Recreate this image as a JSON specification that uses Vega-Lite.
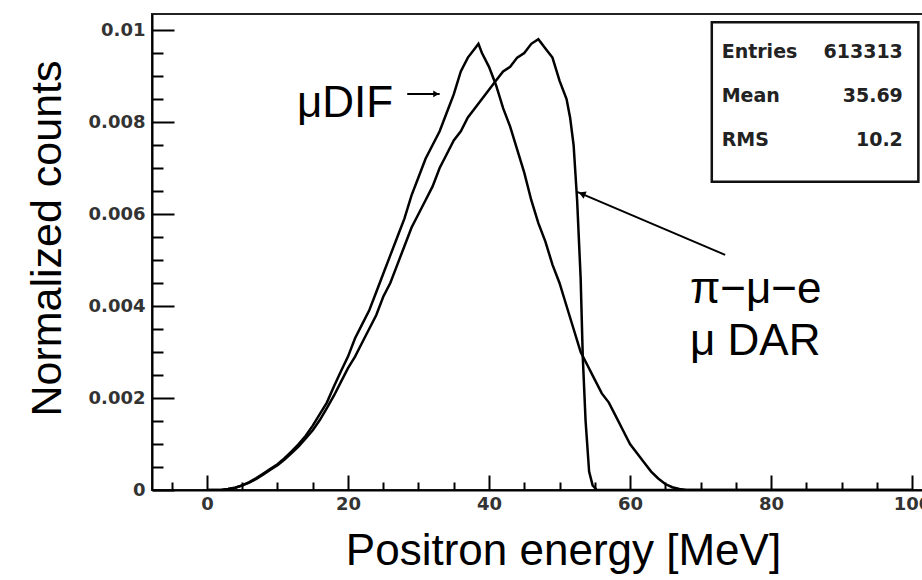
{
  "$schema": "https://vega.github.io/schema/vega-lite/v6.json",
  "width": 772,
  "height": 476,
  "autosize": {"type": "none"},
  "padding": {"left": 152, "top": 14, "right": 0, "bottom": 90},
  "background": "white",
  "config": {
    "view": {"stroke": "#222", "strokeWidth": 2},
    "axis": {
      "grid": false,
      "domainColor": "black",
      "domainWidth": 2,
      "tickColor": "black",
      "tickWidth": 2,
      "labelFont": "DejaVu Sans",
      "labelFontWeight": "bold",
      "labelFontSize": 18,
      "labelColor": "#333",
      "titleFont": "Liberation Sans",
      "titleFontWeight": "normal",
      "titleFontSize": 43,
      "titleColor": "black"
    }
  },
  "datasets": {
    "hist": [
      {"s": "mudif", "E": 0, "v": 0}, {"s": "mudif", "E": 1, "v": 0}, {"s": "mudif", "E": 2, "v": 0},
      {"s": "mudif", "E": 3, "v": 0.00002}, {"s": "mudif", "E": 4, "v": 0.00005}, {"s": "mudif", "E": 5, "v": 0.0001},
      {"s": "mudif", "E": 6, "v": 0.00017}, {"s": "mudif", "E": 7, "v": 0.00026}, {"s": "mudif", "E": 8, "v": 0.00036},
      {"s": "mudif", "E": 9, "v": 0.00046}, {"s": "mudif", "E": 10, "v": 0.00056}, {"s": "mudif", "E": 11, "v": 0.00069},
      {"s": "mudif", "E": 12, "v": 0.00084}, {"s": "mudif", "E": 13, "v": 0.001}, {"s": "mudif", "E": 14, "v": 0.00118},
      {"s": "mudif", "E": 15, "v": 0.0014}, {"s": "mudif", "E": 16, "v": 0.00165}, {"s": "mudif", "E": 17, "v": 0.0019},
      {"s": "mudif", "E": 18, "v": 0.00225}, {"s": "mudif", "E": 19, "v": 0.00258}, {"s": "mudif", "E": 20, "v": 0.0029},
      {"s": "mudif", "E": 21, "v": 0.0033}, {"s": "mudif", "E": 22, "v": 0.0036}, {"s": "mudif", "E": 23, "v": 0.0039},
      {"s": "mudif", "E": 24, "v": 0.0043}, {"s": "mudif", "E": 25, "v": 0.0047}, {"s": "mudif", "E": 26, "v": 0.0051},
      {"s": "mudif", "E": 27, "v": 0.0055}, {"s": "mudif", "E": 28, "v": 0.0059}, {"s": "mudif", "E": 29, "v": 0.0064},
      {"s": "mudif", "E": 30, "v": 0.0068}, {"s": "mudif", "E": 31, "v": 0.0072}, {"s": "mudif", "E": 32, "v": 0.0075},
      {"s": "mudif", "E": 33, "v": 0.0078}, {"s": "mudif", "E": 34, "v": 0.0082}, {"s": "mudif", "E": 35, "v": 0.0086},
      {"s": "mudif", "E": 36, "v": 0.0091}, {"s": "mudif", "E": 37, "v": 0.0094}, {"s": "mudif", "E": 38, "v": 0.0096},
      {"s": "mudif", "E": 38.5, "v": 0.0097}, {"s": "mudif", "E": 39, "v": 0.0095}, {"s": "mudif", "E": 40, "v": 0.0092},
      {"s": "mudif", "E": 41, "v": 0.0088}, {"s": "mudif", "E": 42, "v": 0.0083}, {"s": "mudif", "E": 43, "v": 0.0079},
      {"s": "mudif", "E": 44, "v": 0.0074}, {"s": "mudif", "E": 45, "v": 0.0069}, {"s": "mudif", "E": 46, "v": 0.0063},
      {"s": "mudif", "E": 47, "v": 0.0058}, {"s": "mudif", "E": 48, "v": 0.0054}, {"s": "mudif", "E": 49, "v": 0.0049},
      {"s": "mudif", "E": 50, "v": 0.0045}, {"s": "mudif", "E": 51, "v": 0.004}, {"s": "mudif", "E": 52, "v": 0.0035},
      {"s": "mudif", "E": 53, "v": 0.003}, {"s": "mudif", "E": 54, "v": 0.0027}, {"s": "mudif", "E": 55, "v": 0.0024},
      {"s": "mudif", "E": 56, "v": 0.0021}, {"s": "mudif", "E": 57, "v": 0.0019}, {"s": "mudif", "E": 58, "v": 0.0016},
      {"s": "mudif", "E": 59, "v": 0.0013}, {"s": "mudif", "E": 60, "v": 0.001}, {"s": "mudif", "E": 61, "v": 0.0008},
      {"s": "mudif", "E": 62, "v": 0.0006}, {"s": "mudif", "E": 63, "v": 0.0004}, {"s": "mudif", "E": 64, "v": 0.00025},
      {"s": "mudif", "E": 65, "v": 0.00013}, {"s": "mudif", "E": 66, "v": 0.00006}, {"s": "mudif", "E": 67, "v": 0.00002},
      {"s": "mudif", "E": 68, "v": 0}, {"s": "mudif", "E": 100, "v": 0},
      {"s": "dar", "E": 0, "v": 0}, {"s": "dar", "E": 1, "v": 0}, {"s": "dar", "E": 2, "v": 0},
      {"s": "dar", "E": 3, "v": 0.00002}, {"s": "dar", "E": 4, "v": 0.00005}, {"s": "dar", "E": 5, "v": 0.0001},
      {"s": "dar", "E": 6, "v": 0.00016}, {"s": "dar", "E": 7, "v": 0.00024}, {"s": "dar", "E": 8, "v": 0.00034},
      {"s": "dar", "E": 9, "v": 0.00044}, {"s": "dar", "E": 10, "v": 0.00054}, {"s": "dar", "E": 11, "v": 0.00066},
      {"s": "dar", "E": 12, "v": 0.0008}, {"s": "dar", "E": 13, "v": 0.00095}, {"s": "dar", "E": 14, "v": 0.00112},
      {"s": "dar", "E": 15, "v": 0.0013}, {"s": "dar", "E": 16, "v": 0.00152}, {"s": "dar", "E": 17, "v": 0.00178},
      {"s": "dar", "E": 18, "v": 0.00205}, {"s": "dar", "E": 19, "v": 0.00235}, {"s": "dar", "E": 20, "v": 0.00265},
      {"s": "dar", "E": 21, "v": 0.0029}, {"s": "dar", "E": 22, "v": 0.0032}, {"s": "dar", "E": 23, "v": 0.0035},
      {"s": "dar", "E": 24, "v": 0.0038}, {"s": "dar", "E": 25, "v": 0.0042}, {"s": "dar", "E": 26, "v": 0.0045},
      {"s": "dar", "E": 27, "v": 0.0049}, {"s": "dar", "E": 28, "v": 0.0053}, {"s": "dar", "E": 29, "v": 0.0057},
      {"s": "dar", "E": 30, "v": 0.006}, {"s": "dar", "E": 31, "v": 0.0063}, {"s": "dar", "E": 32, "v": 0.0066},
      {"s": "dar", "E": 33, "v": 0.007}, {"s": "dar", "E": 34, "v": 0.0073}, {"s": "dar", "E": 35, "v": 0.0076},
      {"s": "dar", "E": 36, "v": 0.0078}, {"s": "dar", "E": 37, "v": 0.0081}, {"s": "dar", "E": 38, "v": 0.0083},
      {"s": "dar", "E": 39, "v": 0.0085}, {"s": "dar", "E": 40, "v": 0.0087}, {"s": "dar", "E": 41, "v": 0.0089},
      {"s": "dar", "E": 42, "v": 0.0091}, {"s": "dar", "E": 43, "v": 0.0092}, {"s": "dar", "E": 44, "v": 0.0094},
      {"s": "dar", "E": 45, "v": 0.0095}, {"s": "dar", "E": 46, "v": 0.0097}, {"s": "dar", "E": 47, "v": 0.0098},
      {"s": "dar", "E": 48, "v": 0.0096}, {"s": "dar", "E": 49, "v": 0.0094}, {"s": "dar", "E": 49.6, "v": 0.0091},
      {"s": "dar", "E": 50, "v": 0.0089}, {"s": "dar", "E": 51, "v": 0.0085}, {"s": "dar", "E": 51.5, "v": 0.0081},
      {"s": "dar", "E": 52, "v": 0.0075}, {"s": "dar", "E": 52.5, "v": 0.0063}, {"s": "dar", "E": 53, "v": 0.0046},
      {"s": "dar", "E": 53.3, "v": 0.0029}, {"s": "dar", "E": 53.7, "v": 0.0015}, {"s": "dar", "E": 54.2, "v": 0.0004},
      {"s": "dar", "E": 54.7, "v": 0.0001}, {"s": "dar", "E": 55.3, "v": 0}, {"s": "dar", "E": 100, "v": 0}
    ],
    "arrows": [
      {"id": "a1", "E": 28.4, "v": 0.00861}, {"id": "a1", "E": 33.0, "v": 0.00861},
      {"id": "a2", "E": 52.5, "v": 0.00648}, {"id": "a2", "E": 73.5, "v": 0.00511}
    ],
    "head1": [{"E": 32.5, "v": 0.00861}],
    "head2": [{"E": 53.2, "v": 0.00644}],
    "labels": [
      {"t": "μDIF", "E": 26.4, "v": 0.00811},
      {"t": "π−μ−e", "E": 68.5, "v": 0.00407},
      {"t": "μ DAR", "E": 68.5, "v": 0.00293}
    ],
    "box": [{"E": 71.6, "E2": 100.9, "v": 0.01017, "v2": 0.0067}],
    "statL": [
      {"t": "Entries", "E": 73.0, "v": 0.00952},
      {"t": "Mean", "E": 73.0, "v": 0.00857},
      {"t": "RMS", "E": 73.0, "v": 0.00761}
    ],
    "statR": [
      {"t": "613313", "E": 98.7, "v": 0.00952},
      {"t": "35.69", "E": 98.7, "v": 0.00857},
      {"t": "10.2", "E": 98.7, "v": 0.00761}
    ]
  },
  "encoding": {
    "x": {
      "field": "E", "type": "quantitative",
      "scale": {"domain": [-7.8, 101.7], "nice": false, "zero": false},
      "axis": {
        "values": [-5, 0, 5, 10, 15, 20, 25, 30, 35, 40, 45, 50, 55, 60, 65, 70, 75, 80, 85, 90, 95, 100],
        "labelExpr": "datum.value % 20 === 0 ? format(datum.value, 'd') : ''",
        "tickSize": {"condition": {"test": "datum.value % 20 === 0", "value": -15}, "value": -8},
        "labelPadding": 20,
        "labelFlush": false,
        "title": "Positron energy [MeV]",
        "titleFontSize": 44,
        "titleX": 411,
        "titleY": 74,
        "titleAlign": "center",
        "titleBaseline": "alphabetic"
      }
    },
    "y": {
      "field": "v", "type": "quantitative",
      "scale": {"domain": [0, 0.010348], "nice": false, "zero": false},
      "axis": {
        "values": [0, 0.0005, 0.001, 0.0015, 0.002, 0.0025, 0.003, 0.0035, 0.004, 0.0045, 0.005, 0.0055, 0.006, 0.0065, 0.007, 0.0075, 0.008, 0.0085, 0.009, 0.0095, 0.01],
        "labelExpr": "round(datum.value * 10000) % 20 === 0 ? format(datum.value, '~g') : ''",
        "tickSize": {"condition": {"test": "round(datum.value * 10000) % 20 === 0", "value": -22}, "value": -11},
        "labelPadding": 29,
        "labelFlush": false,
        "title": "Normalized counts",
        "titleX": -92,
        "titleY": 224,
        "titleAngle": 270,
        "titleAlign": "center",
        "titleBaseline": "alphabetic"
      }
    }
  },
  "layer": [
    {
      "data": {"name": "hist"},
      "mark": {"type": "line", "color": "black", "strokeWidth": 2.5, "clip": true},
      "encoding": {"detail": {"field": "s", "type": "nominal"}}
    },
    {
      "data": {"name": "arrows"},
      "mark": {"type": "line", "color": "black", "strokeWidth": 2},
      "encoding": {"detail": {"field": "id", "type": "nominal"}}
    },
    {
      "data": {"name": "head1"},
      "mark": {"type": "point", "shape": "triangle-right", "filled": true, "color": "black", "size": 45, "opacity": 1}
    },
    {
      "data": {"name": "head2"},
      "mark": {"type": "point", "shape": "triangle-left", "filled": true, "color": "black", "size": 60, "angle": 23, "opacity": 1}
    },
    {
      "data": {"name": "labels"},
      "transform": [{"filter": "datum.t === 'μDIF'"}],
      "mark": {"type": "text", "font": "Liberation Sans", "fontSize": 44, "align": "right", "baseline": "alphabetic", "color": "black"},
      "encoding": {"text": {"field": "t"}}
    },
    {
      "data": {"name": "labels"},
      "transform": [{"filter": "datum.t !== 'μDIF'"}],
      "mark": {"type": "text", "font": "Liberation Sans", "fontSize": 44, "align": "left", "baseline": "alphabetic", "color": "black"},
      "encoding": {"text": {"field": "t"}}
    },
    {
      "data": {"name": "box"},
      "mark": {"type": "rect", "fill": "white", "stroke": "#111", "strokeWidth": 2.5},
      "encoding": {"x2": {"field": "E2"}, "y2": {"field": "v2"}}
    },
    {
      "data": {"name": "statL"},
      "mark": {"type": "text", "font": "DejaVu Sans", "fontWeight": "bold", "fontSize": 19, "align": "left", "baseline": "middle", "color": "#222"},
      "encoding": {"text": {"field": "t"}}
    },
    {
      "data": {"name": "statR"},
      "mark": {"type": "text", "font": "DejaVu Sans", "fontWeight": "bold", "fontSize": 19, "align": "right", "baseline": "middle", "color": "#222"},
      "encoding": {"text": {"field": "t"}}
    }
  ]
}
